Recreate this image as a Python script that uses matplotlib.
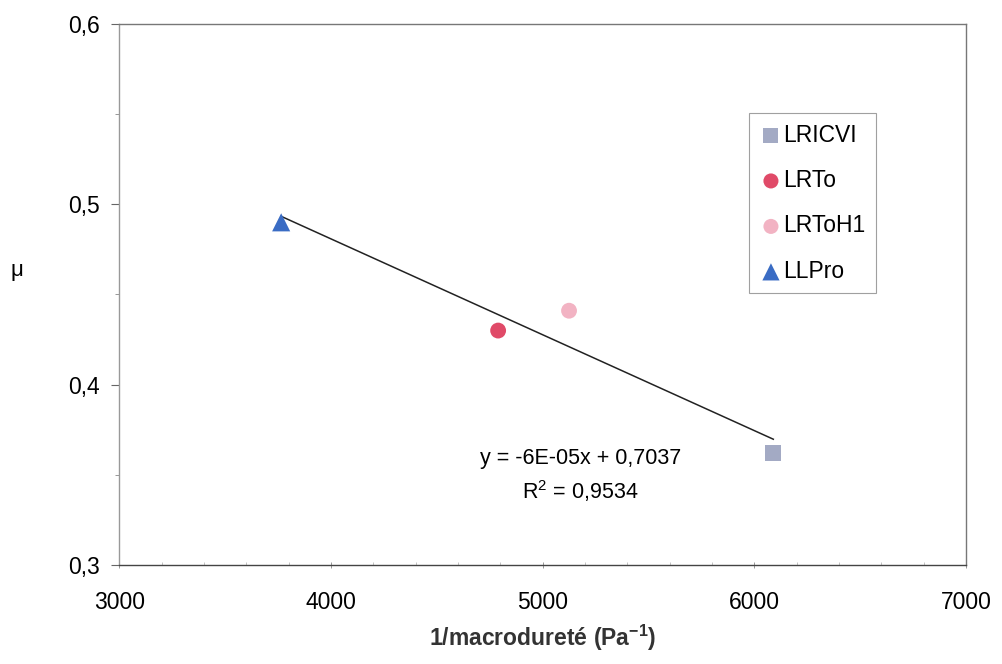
import numpy as np
import matplotlib.pyplot as plt
from matplotlib.ticker import MultipleLocator, FuncFormatter

plt.rcParams['font.family'] = ['Liberation Sans', 'DejaVu Sans']

# data
series = ['LRICVI', 'LRTo', 'LRToH1', 'LLPro']
inv_hardness = [6090, 4790, 5125, 3765]
mu = [0.362, 0.430, 0.441, 0.490]

colors = ['#a3aac4', '#e04a68', '#f2b3c3', '#3a6cc4']
markers = ['s', 'o', 'o', '^']

fig = plt.figure(figsize=(10.02, 6.64), dpi=100)
ax = fig.add_axes([0.119, 0.149, 0.845, 0.815])

for name, x, y, c, m in zip(series, inv_hardness, mu, colors, markers):
    ax.scatter([x], [y], s=170 if m == '^' else 130, marker=m, color=c,
               edgecolors='none', label=name, zorder=3)

# linear trendline
slope, intercept = np.polyfit(inv_hardness, mu, 1)
xs = np.array([min(inv_hardness), max(inv_hardness)])
ax.plot(xs, slope * xs + intercept, color='#222222', lw=1.1, zorder=2)

ax.text(5180, 0.359, 'y = -6E-05x + 0,7037', ha='center', va='center', fontsize=15.5)
ax.text(5180, 0.341, 'R$^\\mathregular{2}$ = 0,9534', ha='center', va='center', fontsize=15.5)

ax.set_xlim(3000, 7000)
ax.set_ylim(0.3, 0.6)
ax.xaxis.set_major_locator(MultipleLocator(1000))
ax.xaxis.set_minor_locator(MultipleLocator(200))
ax.yaxis.set_major_locator(MultipleLocator(0.1))
ax.yaxis.set_minor_locator(MultipleLocator(0.05))
ax.yaxis.set_major_formatter(FuncFormatter(lambda v, p: f'{v:.1f}'.replace('.', ',')))

for s in ax.spines.values():
    s.set_color('#777777')
    s.set_linewidth(1.0)
ax.spines['left'].set_color('#999999')
ax.spines['bottom'].set_color('#444444')

ax.tick_params(axis='y', which='major', direction='out', length=6, width=0.8,
               color='#666666', labelsize=16.5, pad=8)
ax.tick_params(axis='y', which='minor', direction='out', length=3, width=0.6, color='#888888')
ax.tick_params(axis='x', which='major', direction='inout', length=4, width=0.6,
               color='#888888', labelsize=16.5, pad=17)
ax.tick_params(axis='x', which='minor', direction='in', length=2, width=0.5, color='#aaaaaa')

ax.set_xlabel('1/macrodureté (Pa$^{\\mathregular{-1}}$)', fontsize=16.5, fontweight='bold',
              color='#333333', labelpad=6)
fig.text(0.010, 0.593, 'μ', fontsize=16, ha='left', va='center')

leg = ax.legend(loc='upper left', bbox_to_anchor=(0.744, 0.835), fontsize=16.5,
                frameon=True, fancybox=False, handletextpad=0.05, handlelength=1.0,
                labelspacing=0.98, borderpad=0.45, borderaxespad=0, markerscale=0.95)
leg.get_frame().set_edgecolor('#888888')
leg.get_frame().set_linewidth(0.8)

fig.savefig('out.png', dpi=100)
